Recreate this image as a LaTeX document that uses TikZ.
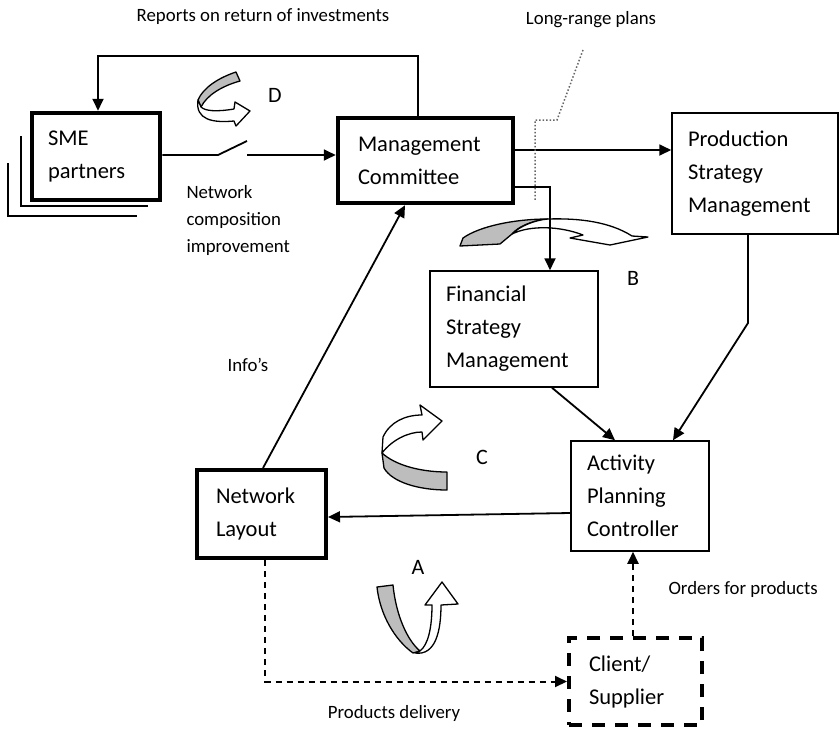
\documentclass[tikz,border=0pt]{standalone}
\usepackage{fontspec}
\setmainfont{Carlito}
\usetikzlibrary{arrows.meta}

\tikzset{
  box/.style={draw, line width=1.5pt, align=left, inner xsep=16pt, inner ysep=0pt,
    font=\fontsize{22.5}{33}\selectfont},
  thickbox/.style={box, line width=4.5pt},
  flow/.style={line width=1.8pt, -{Triangle[length=12pt,width=11pt]}},
  dflow/.style={flow, line width=2pt, dash pattern=on 6pt off 5pt},
  lbl/.style={font=\fontsize{18.8}{27}\selectfont, align=left},
  tag/.style={font=\fontsize{22}{26}\selectfont},
  bandgray/.style={draw, line width=1.3pt, fill=black!26, line join=round},
  bandwhite/.style={draw, line width=1.3pt, fill=white, line join=round}
}

\begin{document}
\begin{tikzpicture}[x=1pt,y=-1pt]
  \useasboundingbox (0,0) rectangle (839,729);

  % boxes
  \node[thickbox, text width=96pt, minimum height=87pt] (sme) at (96,156.5) {SME\\partners};
  \node[thickbox, inner xsep=20pt, text width=135pt, minimum height=85pt] (mc) at (425.5,160.5) {Management\\Committee};
  \node[box, text width=134pt, minimum height=121pt] (psm) at (755,173.5) {Production\\Strategy\\Management};
  \node[box, text width=136pt, minimum height=116pt] (fsm) at (514,329) {Financial\\Strategy\\Management};
  \node[box, text width=106pt, minimum height=110pt] (apc) at (640,496) {Activity\\Planning\\Controller};
  \node[thickbox, line width=4pt, inner xsep=19pt, text width=91pt, minimum height=88pt] (nl) at (261.5,514) {Network\\Layout};
  \node[box, line width=4pt, dash pattern=on 13pt off 10pt, inner xsep=20pt, text width=93pt,
        minimum height=87pt] (cs) at (635.5,681.5) {Client/\\Supplier};

  % stacked partners
  \draw[line width=1.5pt] (21,136) -- (21,206) -- (148,206);
  \draw[line width=1.5pt] (8,163) -- (8,216) -- (137,216);

  % curved arrows A, B, C, D
  \draw[bandgray] (236,72) -- (240,81) .. controls (222,86) and (207,95) .. (201,107)
    -- (198,100) .. controls (203,88) and (218,78) .. (236,72) -- cycle;
  \draw[bandwhite] (198,100) .. controls (195,120) and (213,123) .. (234,121) -- (236,126)
    -- (250,111) -- (235,102) -- (234,109) .. controls (216,112) and (205,111) .. (201,107) -- cycle;

  \draw[bandgray] (460,246) -- (463,238) .. controls (480,226) and (515,219) .. (548,219)
    .. controls (530,221) and (518,227) .. (512,234) -- (500,244) -- cycle;
  \draw[bandwhite] (512,234) .. controls (530,225) and (560,226) .. (583,235) -- (570,238)
    -- (610,245) -- (648,237) -- (632,236) .. controls (610,222) and (580,218) .. (548,219)
    .. controls (535,220) and (520,226) .. (512,234) -- cycle;

  \draw[bandgray] (382,453) .. controls (395,465) and (420,472) .. (447,472) -- (447,490)
    .. controls (418,490) and (392,482) .. (384,468) -- cycle;
  \draw[bandwhite] (382,453) -- (383,437) .. controls (390,422) and (405,415) .. (422,415)
    -- (420,405) -- (442,421) -- (423,440) -- (422,432) .. controls (408,432) and (392,440) .. (382,453) -- cycle;

  \draw[bandgray] (377,587) -- (393,585) .. controls (396,615) and (407,640) .. (420,651)
    -- (413,653) .. controls (395,640) and (380,615) .. (377,587) -- cycle;
  \draw[bandwhite] (415,653) .. controls (436,656) and (441,630) .. (441,605) -- (458,604)
    -- (442,582) -- (425,605) -- (432,605) .. controls (432,628) and (428,645) .. (420,651) -- cycle;

  \node[tag] (tA) at (418,567) {A};
  \node[tag] (tB) at (633,278) {B};
  \node[tag] (tC) at (482,457) {C};
  \node[tag] (tD) at (275,95) {D};

  % connectors
  \coordinate (swa) at (218,155);
  \coordinate (swb) at (247,141);
  \coordinate (swc) at (247,155);
  \draw[line width=1.8pt] (sme.east |- swa) -- (swa) -- (swb);
  \draw[flow] (swc) -- (mc.west |- swc);

  \coordinate (repR) at (418,56);
  \coordinate (repL) at (98,56);
  \draw[flow] (mc.north -| repR) -- (repR) -- (repL) -- (sme.north -| repL);

  \coordinate (mp) at (580,150);
  \draw[flow] (mc.east |- mp) -- (psm.west |- mp);

  \coordinate (mf) at (550,187);
  \draw[flow] (mc.east |- mf) -- (mf) -- (fsm.north -| mf);

  \coordinate (fa) at (552,387);
  \coordinate (fb) at (615,441);
  \draw[flow] (fsm.south -| fa) -- (apc.north -| fb);

  \coordinate (pa) at (748,323);
  \coordinate (pb) at (673,441);
  \draw[flow] (psm.south -| pa) -- (pa) -- (apc.north -| pb);

  \coordinate (an) at (571,513);
  \coordinate (na) at (326,517);
  \draw[flow] (apc.west |- an) -- (nl.east |- na);

  \coordinate (nm) at (263,470);
  \coordinate (mn) at (405,203);
  \draw[flow] (nl.north -| nm) -- (mc.south -| mn);

  \coordinate (ca) at (633,600);
  \draw[dflow] (cs.north -| ca) -- (apc.south -| ca);

  \coordinate (nc) at (265,600);
  \draw[dflow] (nl.south -| nc) |- (cs.west);

  % long-range plans leader
  \coordinate (lr1) at (583,50);
  \coordinate (lr2) at (557,120);
  \coordinate (lr3) at (535,120);
  \coordinate (lr4) at (535,200);
  \draw[line width=1.5pt, dotted, black!60] (lr1) -- (lr2) -- (lr3) -- (lr4);

  % labels
  \node[lbl] (reports) at (263,17) {Reports on return of investments};
  \node[lbl] (longrange) at (591,20) {Long-range plans};
  \node[lbl, anchor=west] (netcomp) at (183,220) {Network\\composition\\improvement};
  \node[lbl] (infos) at (248,365) {Info’s};
  \node[lbl, anchor=west] (orders) at (665,589) {Orders for products};
  \node[lbl] (delivery) at (394,713) {Products delivery};
\end{tikzpicture}
\end{document}
